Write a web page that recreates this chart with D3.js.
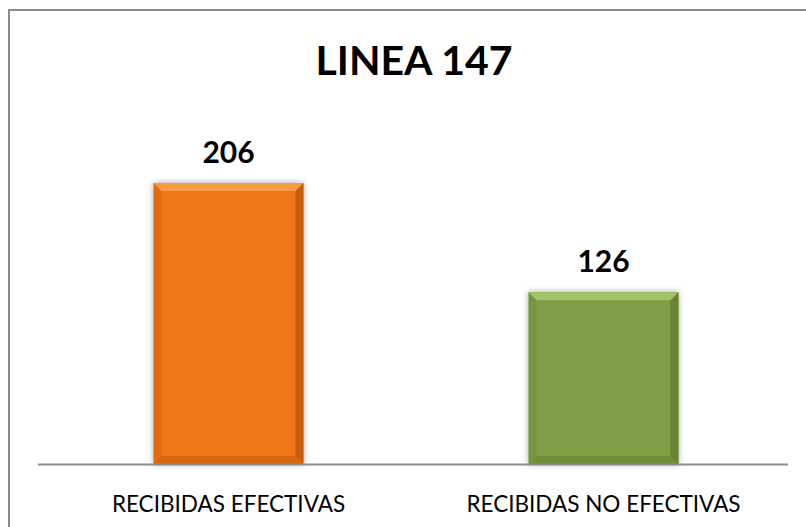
<!DOCTYPE html>
<html>
<head>
<meta charset="utf-8">
<script src="https://cdn.jsdelivr.net/npm/d3@7"></script>
<style>
  html, body { margin: 0; padding: 0; background: #fff; }
  svg { display: block; }
</style>
</head>
<body>
<div id="chart"></div>
<script>
// chart data
var title = "LINEA 147";
var categories = ["RECIBIDAS EFECTIVAS", "RECIBIDAS NO EFECTIVAS"];
var values = [206, 126];
var barColors = ["#F07412", "#7F9E45"];
var lightColors = ["#F8A04A", "#A9C56E"];
var darkColors = ["#B85508", "#5F7A2E"];

var W = 806, H = 527;
var baseY = 464;

var svg = d3.select("#chart").append("svg")
    .attr("width", W)
    .attr("height", H);

var defs = svg.append("defs");
var f = defs.append("filter").attr("id", "shadow")
    .attr("x", "-20%").attr("y", "-20%").attr("width", "140%").attr("height", "140%");
f.append("feDropShadow").attr("dx", 0).attr("dy", 0).attr("stdDeviation", 3)
    .attr("flood-color", "#000").attr("flood-opacity", 0.35);

// outer frame (runs off the bottom/right edge)
svg.append("rect")
    .attr("x", 9).attr("y", 10)
    .attr("width", 830).attr("height", 560)
    .attr("fill", "none")
    .attr("stroke", "#8a8a8a")
    .attr("stroke-width", 2);

var x = d3.scaleBand()
    .domain(categories)
    .range([41, 791])
    .paddingInner(0.6)
    .paddingOuter(0.3);

var y = d3.scaleLinear()
    .domain([0, 250])
    .range([baseY, baseY - 250 * 281 / 206]);

// title
svg.append("text")
    .attr("x", 414).attr("y", 75)
    .attr("text-anchor", "middle")
    .attr("font-family", "Lato, 'Open Sans', sans-serif")
    .attr("font-weight", "bold")
    .attr("font-size", 41)
    .attr("fill", "#000")
    .text(title);

var bars = svg.selectAll("g.bar")
    .data(values)
    .enter().append("g")
    .attr("class", "bar");

var bv = 8; // bevel size

bars.each(function(d, i) {
    var g = d3.select(this);
    var x0 = x(categories[i]), x1 = x0 + x.bandwidth();
    var y0 = y(d), y1 = y(0);
    g.append("rect")
        .attr("x", x0).attr("y", y0)
        .attr("width", x1 - x0).attr("height", y1 - y0)
        .attr("fill", barColors[i])
        .attr("filter", "url(#shadow)");
    // top bevel
    g.append("polygon")
        .attr("points", [[x0, y0], [x1, y0], [x1 - bv, y0 + bv], [x0 + bv, y0 + bv]].join(" "))
        .attr("fill", lightColors[i]).attr("opacity", 0.9);
    // left bevel
    g.append("polygon")
        .attr("points", [[x0, y0], [x0 + bv, y0 + bv], [x0 + bv, y1 - bv], [x0, y1]].join(" "))
        .attr("fill", darkColors[i]).attr("opacity", 0.25);
    // right bevel
    g.append("polygon")
        .attr("points", [[x1, y0], [x1, y1], [x1 - bv, y1 - bv], [x1 - bv, y0 + bv]].join(" "))
        .attr("fill", darkColors[i]).attr("opacity", 0.75);
    // bottom bevel
    g.append("polygon")
        .attr("points", [[x0, y1], [x1, y1], [x1 - bv, y1 - bv], [x0 + bv, y1 - bv]].join(" "))
        .attr("fill", darkColors[i]).attr("opacity", 0.45);
});

// value labels
svg.selectAll("text.val")
    .data(values)
    .enter().append("text")
    .attr("class", "val")
    .attr("x", function(d, i) { return x(categories[i]) + x.bandwidth() / 2; })
    .attr("y", function(d) { return y(d) - 20; })
    .attr("text-anchor", "middle")
    .attr("font-family", "Lato, 'Open Sans', sans-serif")
    .attr("font-weight", "bold")
    .attr("font-size", 30)
    .attr("fill", "#000")
    .text(function(d) { return d; });

// baseline axis
svg.append("line")
    .attr("x1", 38).attr("x2", 788)
    .attr("y1", baseY + 0.5).attr("y2", baseY + 0.5)
    .attr("stroke", "#8c8c8c")
    .attr("stroke-width", 2);

// category labels
svg.selectAll("text.cat")
    .data(categories)
    .enter().append("text")
    .attr("class", "cat")
    .attr("x", function(d) { return x(d) + x.bandwidth() / 2; })
    .attr("y", 512)
    .attr("text-anchor", "middle")
    .attr("font-family", "Lato, 'Open Sans', sans-serif")
    .attr("font-size", 22.5)
    .attr("fill", "#000")
    .text(function(d) { return d; });
</script>
</body>
</html>
